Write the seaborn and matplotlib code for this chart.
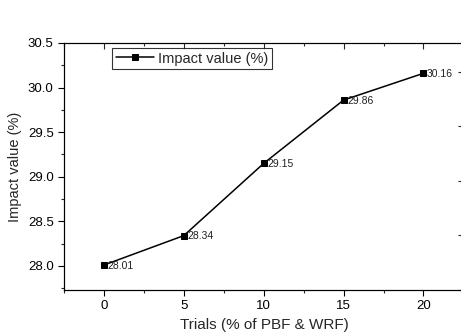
import matplotlib
matplotlib.use("Agg")
import matplotlib.pyplot as plt
import seaborn as sns
import pandas as pd
from matplotlib.ticker import MultipleLocator

trials = [0, 5, 10, 15, 20]
impact = [28.01, 28.34, 29.15, 29.86, 30.16]
labels = ["28.01", "28.34", "29.15", "29.86", "30.16"]

sns.set_style("ticks")
plt.rcParams['font.family'] = ['Liberation Sans', 'DejaVu Sans']

df = pd.DataFrame({"Trials": trials, "Impact": impact})

fig = plt.figure(figsize=(4.61, 3.32), dpi=100)
ax = fig.add_axes([64/461, 42/332, 401/461, 247/332])

sns.lineplot(data=df, x="Trials", y="Impact", ax=ax, color="black", lw=1.1,
             marker="s", markersize=5, markeredgecolor="black", markerfacecolor="black",
             label="Impact value (%)")

for x, y, t in zip(trials, impact, labels):
    ax.annotate(t, (x, y), xytext=(2.5, -2.8), textcoords="offset points",
                fontsize=7.5, color="#222222")

ax.set_xlim(-2.5, 22.6)
ax.set_ylim(27.73, 30.5)
ax.xaxis.set_major_locator(MultipleLocator(5))
ax.xaxis.set_minor_locator(MultipleLocator(2.5))
ax.yaxis.set_major_locator(MultipleLocator(0.5))
ax.yaxis.set_minor_locator(MultipleLocator(0.25))
ax.tick_params(axis="both", which="major", direction="out", length=4, width=0.8, labelsize=9.5, colors="black")
ax.tick_params(axis="both", which="minor", direction="out", length=2.5, width=0.8)
ax.tick_params(axis="x", which="both", top=False, bottom=True)

sec = ax.secondary_xaxis("top")
sec.xaxis.set_major_locator(MultipleLocator(5))
sec.xaxis.set_minor_locator(MultipleLocator(2.5))
sec.tick_params(which="major", direction="in", length=4, width=0.8, labeltop=False)
sec.tick_params(which="minor", direction="in", length=2.5, width=0.8)
for s in sec.spines.values():
    s.set_visible(False)

tw = ax.twinx()
tw.set_ylim(0, 4.53)
tw.yaxis.set_major_locator(MultipleLocator(1))
tw.yaxis.set_minor_locator(MultipleLocator(0.5))
tw.tick_params(which="major", direction="in", length=5, width=0.8, labelright=False)
tw.tick_params(which="minor", direction="in", length=2, width=0.8)

for s in list(ax.spines.values()) + list(tw.spines.values()):
    s.set_linewidth(0.8)
    s.set_color("black")

ax.set_xlabel("Trials (% of PBF & WRF)", fontsize=11, labelpad=4)
ax.set_ylabel("Impact value (%)", fontsize=10.5, labelpad=4)

leg = ax.legend(loc="upper left", bbox_to_anchor=(0.12, 0.98), fontsize=10.5,
                frameon=True, fancybox=False, handlelength=2.6, borderpad=0.25,
                handletextpad=0.3, borderaxespad=0)
leg.get_frame().set_edgecolor("black")
leg.get_frame().set_linewidth(0.8)

fig.savefig("out.png", dpi=100)
